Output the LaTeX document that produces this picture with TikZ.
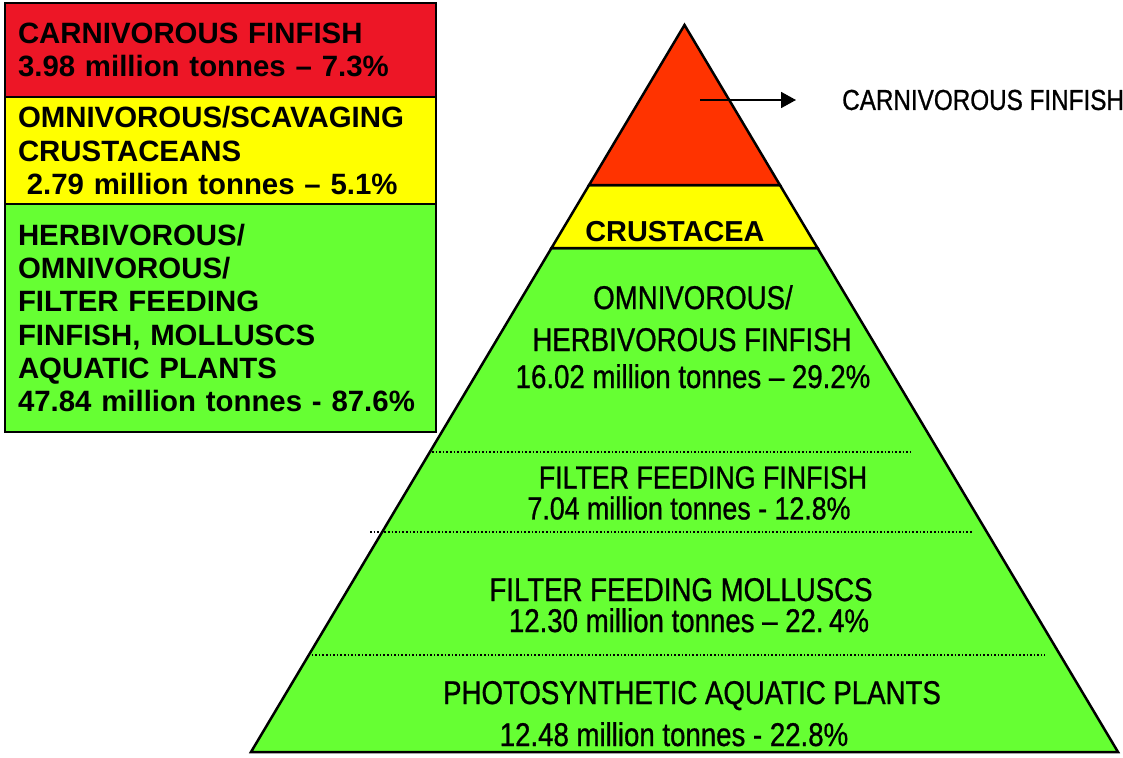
\documentclass[tikz,border=0pt]{standalone}
\usepackage{fontspec}
\setmainfont{Liberation Sans}
\newfontfamily\narrowfont[FakeStretch=0.84,FakeBold=0.8]{Liberation Sans}
\usetikzlibrary{
    arrows.meta,
    positioning
}
\definecolor{carnred}{RGB}{237,22,38}
\definecolor{toporange}{RGB}{255,51,0}
\definecolor{crustyellow}{RGB}{255,255,0}
\definecolor{plantgreen}{RGB}{102,255,51}

\begin{document}
\begin{tikzpicture}[
    x=1bp,
    y=-1bp,
    legendbox/.style={
        draw=black,
        line width=2bp,
        outer sep=0pt,
        minimum width=431bp,
        text width=405bp,
        inner xsep=13bp,
        inner ysep=0pt,
        align=left,
        font=\fontsize{29.5}{33.5}\selectfont\bfseries
    },
    tier/.style={
        draw=black,
        line width=2.5bp,
        line join=miter
    },
    levelline/.style={
        dotted,
        line width=1.6bp
    },
    levellabel/.style={
        anchor=base,
        inner sep=0pt,
        font=\fontsize{33}{33}\selectfont\narrowfont
    },
    pointer/.style={
        -{Triangle[length=15bp,width=16bp]},
        line width=1.8bp
    }
]
\useasboundingbox (0,0) rectangle (1123,758);

% legend
\node[
    legendbox,
    fill=carnred,
    minimum height=94bp,
    anchor=north west
] (carnivores) at (5,3) {
    CARNIVOROUS FINFISH\\
    3.98 million tonnes – 7.3\%
};

\node[
    legendbox,
    fill=crustyellow,
    minimum height=107bp,
    below=0pt of carnivores
] (crustaceans) {
    OMNIVOROUS/SCAVAGING\\
    CRUSTACEANS\\
    \hspace{0.3em}2.79 million tonnes – 5.1\%
};

\node[
    legendbox,
    fill=plantgreen,
    minimum height=228bp,
    below=0pt of crustaceans
] (grazers) {
    HERBIVOROUS/\\
    OMNIVOROUS/\\
    FILTER FEEDING\\
    FINFISH, MOLLUSCS\\
    AQUATIC PLANTS\\
    47.84 million tonnes - 87.6\%
};

% pyramid
\filldraw[tier, fill=plantgreen] (551.5,248) -- (251,752) -- (1118,752) -- (817.5,248) -- cycle;
\filldraw[tier, fill=crustyellow] (589.1,185) -- (551.5,248) -- (817.5,248) -- (779.9,185) -- cycle;
\filldraw[tier, fill=toporange] (684.5,25) -- (589.1,185) -- (779.9,185) -- cycle;

\draw[levelline] (432,452) -- (910,452);
\draw[levelline] (370,532) -- (972,532);
\draw[levelline] (308,655) -- (1045,655);

\node[
    anchor=base,
    inner sep=0pt,
    font=\fontsize{29}{29}\selectfont\bfseries
] (crustacea) at (675,241) {CRUSTACEA};

\node[levellabel] (omnihead) at (693,309) {OMNIVOROUS/};
\node[levellabel] (herbhead) at (692,351) {HERBIVOROUS FINFISH};
\node[levellabel] (omnitonnes) at (693,388) {16.02 million tonnes – 29.2\%};

\node[
    levellabel,
    anchor=center,
    align=center,
    font=\fontsize{32}{31}\selectfont\narrowfont
] (finfishband) at (689,493) {
    \hspace{28bp}FILTER FEEDING FINFISH\\
    7.04 million tonnes - 12.8\%
};

\node[levellabel] (molluschead) at (681,601) {FILTER FEEDING MOLLUSCS};
\node[levellabel] (mollusctonnes) at (689,632) {12.30 million tonnes – 22.\,4\%};

\node[levellabel] (planthead) at (692,704) {PHOTOSYNTHETIC AQUATIC PLANTS};
\node[levellabel] (planttonnes) at (674,746) {12.48 million tonnes - 22.8\%};

% pointer to the top tier
\coordinate (pointstart) at (700,100);
\coordinate (pointend) at (796,100);
\node[
    anchor=west,
    inner sep=0pt,
    font=\fontsize{29}{29}\selectfont\narrowfont
] (toplabel) at (842,100) {CARNIVOROUS FINFISH};

\draw[pointer] (pointstart) -- (pointend);

\end{tikzpicture}
\end{document}
